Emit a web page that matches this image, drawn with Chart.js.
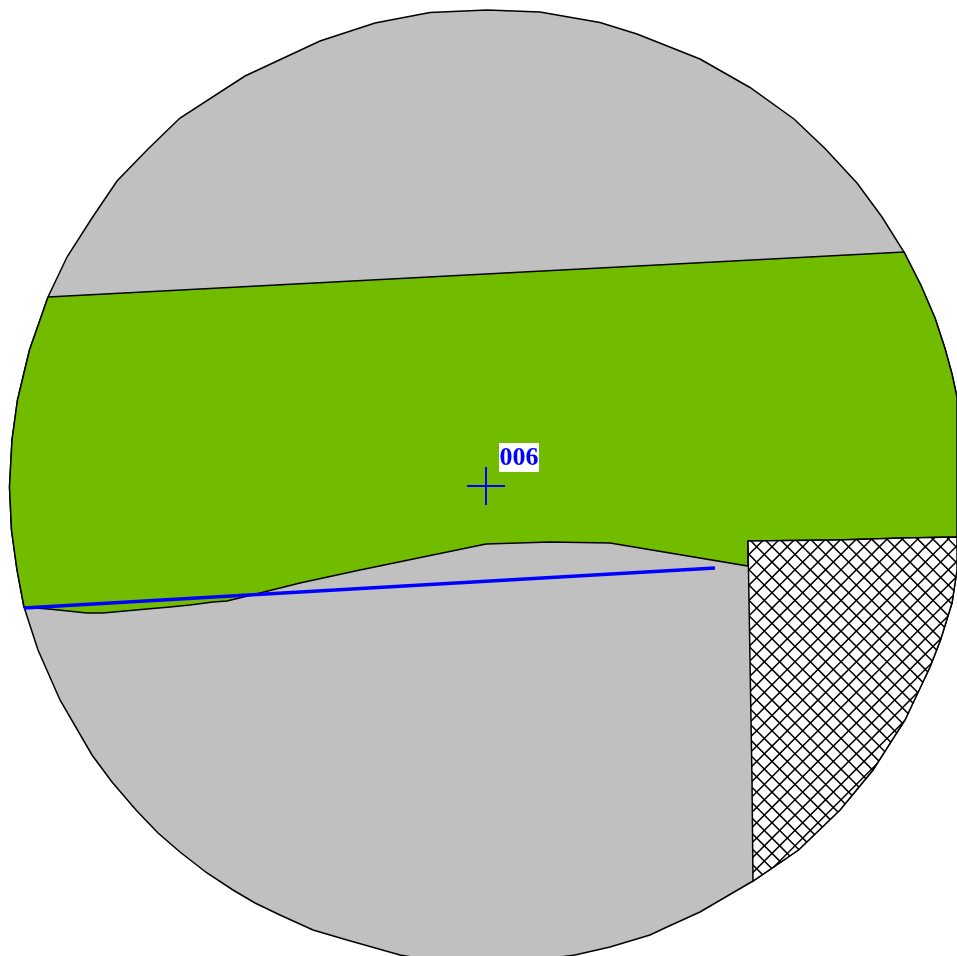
<!DOCTYPE html>
<html>
<head>
<meta charset="utf-8">
<title>006</title>
<script src="https://cdn.jsdelivr.net/npm/chart.js@4"></script>
<style>
    html, body { margin: 0; padding: 0; background: #fff; overflow: hidden; }
    canvas { display: block; }
</style>
</head>
<body>
<canvas id="map" width="957" height="956"></canvas>
<script>
// Values, in picture units
const circleTopRight = [
    [430, 12.5], [487, 10], [540, 12], [600, 22.5], [637, 34], [700, 59], [750, 87.5], [794, 119],
    [825, 148.5], [857, 183], [882, 217], [904, 252]
];
const circleRight = [[921, 285.5], [935, 318], [945, 348.5], [952, 374], [957, 397]];
const circleLowerRight = [
    [957, 570], [952, 603], [940.5, 640], [930, 667], [905, 720], [873, 770], [840, 810], [798.5, 850], [753, 881]
];
const circleBottom = [
    [700, 912], [667, 927], [650, 935], [610, 947], [575, 955], [560, 957], [412, 957], [400, 955],
    [347, 940], [313, 930], [280, 915], [255, 903], [233, 890], [207, 873], [180, 852], [158, 833], [136, 810],
    [112, 782], [92, 755], [60, 700], [38, 650]
];
const circleLeft = [
    [24, 607], [17, 570], [11.5, 530], [9.5, 487], [12, 440], [17.5, 400], [29.5, 350], [40, 320], [48, 297]
];
const circleTopLeft = [[67, 257], [92, 218], [117, 181], [148, 149], [180, 118], [245, 76], [320, 41], [375, 23], [430, 12.5]];

const bandBottom = [
    [957, 537], [904, 538], [837, 540], [748, 541], [748, 566], [610, 543], [550, 542], [486, 544], [360, 570],
    [300, 583], [260, 593], [227, 601], [213, 602], [190, 605], [170, 607], [147, 609], [125, 611], [103, 613],
    [87, 613], [68, 611], [48, 609]
];
const hatchLeft = [[753, 881], [752, 780], [749, 600]];
const hatchTop = [[748, 541], [837, 540], [904, 538], [957, 537]];
const blueLine = [[24, 608], [715, 568]];
const markerPoint = [[486, 486]];
const markerLabel = '006';

const circleEdge = [...circleTopRight, ...circleRight, ...circleLowerRight, ...circleBottom, ...circleLeft, ...circleTopLeft];
const greenBand = [[48, 297], [904, 252], ...circleRight, ...bandBottom, ...circleLeft];
const hatchedArea = [...hatchTop, ...circleLowerRight, ...hatchLeft, hatchTop[0]];

const toPoints = list => list.map(p => ({ x: p[0], y: p[1] }));

// 46px tile = 3 periods of the crosshatch
function hatchPattern() {
    const tile = document.createElement('canvas');
    tile.width = 46;
    tile.height = 46;
    const c = tile.getContext('2d');
    c.fillStyle = '#fff';
    c.fillRect(0, 0, 46, 46);
    c.strokeStyle = '#000';
    c.lineWidth = 1.5;
    const step = 46 / 3;
    for (let k = -9; k <= 9; k++) {
        const a = 10.6 + k * step;
        const b = 0.1 + k * step;
        c.beginPath();
        c.moveTo(a - 10, -10);
        c.lineTo(a + 56, 56);
        c.moveTo(b + 10, -10);
        c.lineTo(b - 56, 56);
        c.stroke();
    }
    return c.createPattern(tile, 'repeat');
}

// White box with the id next to the marker
const labelPlugin = {
    id: 'markerLabel',
    afterDatasetsDraw(chart) {
        const { ctx, scales } = chart;
        const x = scales.x.getPixelForValue(markerPoint[0][0]);
        const y = scales.y.getPixelForValue(markerPoint[0][1]);
        ctx.save();
        ctx.fillStyle = '#fff';
        ctx.fillRect(x + 13, y - 43, 40, 29);
        ctx.fillStyle = '#0000ff';
        ctx.font = 'bold 26px "Liberation Serif"';
        ctx.textAlign = 'center';
        ctx.textBaseline = 'middle';
        ctx.fillText(markerLabel, x + 33, y - 27.5);
        ctx.restore();
    }
};

const area = (data, color) => ({
    data: toPoints(data),
    showLine: true,
    fill: 'shape',
    backgroundColor: color,
    borderColor: '#000',
    borderWidth: 1.5,
    pointRadius: 0,
    tension: 0
});

new Chart(document.getElementById('map'), {
    type: 'scatter',
    data: {
        // first dataset is painted last
        datasets: [
            {
                data: toPoints(markerPoint),
                pointStyle: 'cross',
                pointRadius: 19,
                pointBorderColor: '#0000ff',
                pointBorderWidth: 2,
                showLine: false
            },
            {
                data: toPoints(blueLine),
                showLine: true,
                borderColor: '#0000ff',
                borderWidth: 3.5,
                pointRadius: 0
            },
            area(hatchedArea, hatchPattern()),
            area(greenBand, '#72bc00'),
            area(circleEdge, '#c0c0c0')
        ]
    },
    options: {
        responsive: false,
        animation: false,
        layout: { padding: 0, autoPadding: false },
        plugins: { legend: { display: false }, tooltip: { enabled: false } },
        scales: {
            x: { type: 'linear', min: 0, max: 957, display: false },
            y: { type: 'linear', min: 0, max: 956, reverse: true, display: false }
        }
    },
    plugins: [labelPlugin]
});
</script>
</body>
</html>
